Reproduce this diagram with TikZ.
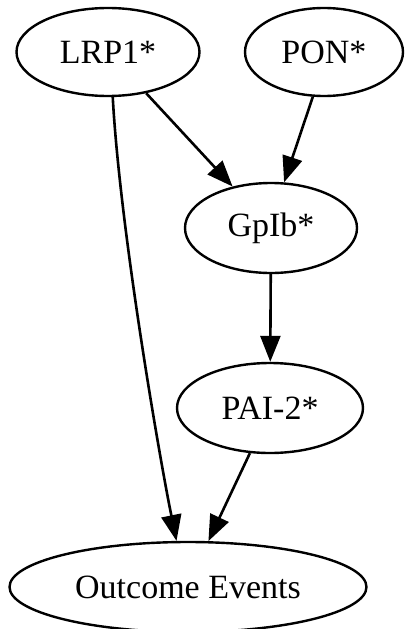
\documentclass[tikz,border=0pt]{standalone}
\usepackage{fontspec}
\setmainfont{Liberation Serif}
\newfontfamily\labelfont{Liberation Serif}
\usetikzlibrary{shapes.geometric, arrows.meta}

\begin{document}
\begin{tikzpicture}[x=1pt, y=-1pt,
	vertex/.style={ellipse, draw, line width=2.4pt, inner sep=0pt, font=\labelfont\fontsize{34}{36}\selectfont},
	edge/.style={line width=2.6pt, -{Triangle[length=26pt, width=20pt]}}]
	\useasboundingbox (0,0) rectangle (405,629);
	\node[vertex, minimum width=183pt, minimum height=88pt] (lrp) at (108,52) {LRP1*};
	\node[vertex, minimum width=158pt, minimum height=88pt] (pon) at (324,52) {PON*};
	\node[vertex, minimum width=172pt, minimum height=90pt] (gpib) at (271,228) {GpIb*};
	\node[vertex, minimum width=186pt, minimum height=90pt] (pai) at (270,408) {PAI-2*};
	\node[vertex, minimum width=357pt, minimum height=90pt] (out) at (188,587) {Outcome Events};
	% edges
	\draw[edge] (lrp) -- (gpib);
	\draw[edge] (pon.-104) -- (gpib.74);
	\draw[edge] (gpib) -- (pai);
	\draw[edge] (pai.-114) -- (out.66);
	\draw[edge] (lrp.-84) .. controls (120,230) and (160,460) .. (out.104);
\end{tikzpicture}
\end{document}
